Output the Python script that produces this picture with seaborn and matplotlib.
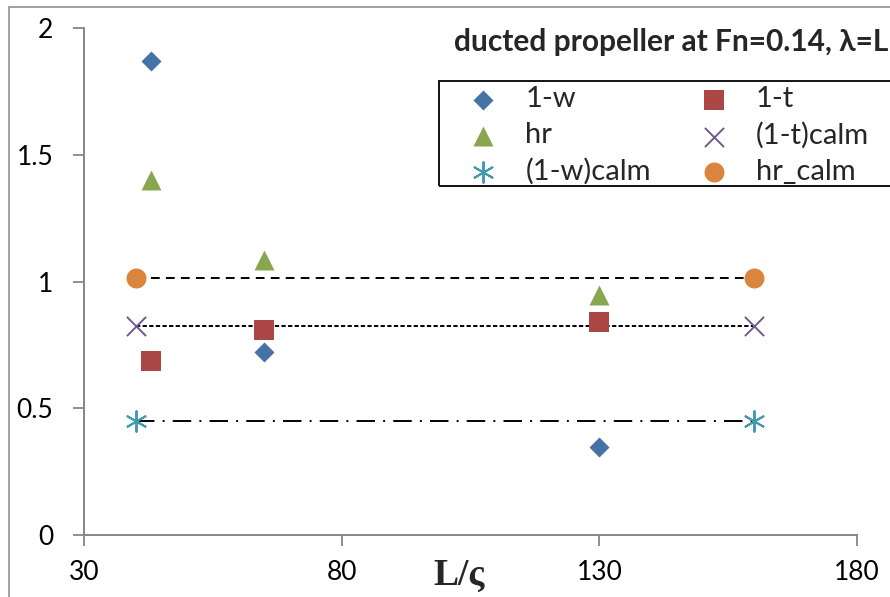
import matplotlib
matplotlib.use("Agg")
import matplotlib.pyplot as plt
import seaborn as sns
from matplotlib.patches import Rectangle

# Wave-condition results at three wavelength ratios
x_wave = [43, 65, 130]
one_minus_w = [1.87, 0.72, 0.347]
one_minus_t = [0.686, 0.81, 0.84]
hr = [1.40, 1.085, 0.945]

# Calm-water reference values, shown as horizontal levels
x_calm = [40, 160]
one_minus_t_calm = [0.823, 0.823]
one_minus_w_calm = [0.448, 0.448]
hr_calm = [1.013, 1.013]

x_ticks = [30, 80, 130, 180]
y_ticks = [0, 0.5, 1, 1.5, 2]
y_tick_labels = ["0", "0.5", "1", "1.5", "2"]

title = "ducted propeller at Fn=0.14, λ=L"
x_label = "L/ς"

sns.set_theme(style="white")
plt.rcParams["font.family"] = ["Lato", "DejaVu Sans"]

W, H = 890, 597
fig = plt.figure(figsize=(W / 100, H / 100), dpi=100)
ax = fig.add_axes([84 / W, 62 / H, 773 / W, 507 / H])

grey = "#868686"
c_w, c_t, c_hr = "#4572A7", "#AA4643", "#89A54E"
c_tc, c_wc, c_hc = "#71588F", "#4198AF", "#DB843D"

# calm-water level lines
sns.lineplot(x=x_calm, y=hr_calm, color="black", lw=1.4,
             linestyle=(0, (4.5, 3.2)), ax=ax, legend=False)
sns.lineplot(x=x_calm, y=one_minus_t_calm, color="black", lw=1.4,
             linestyle=(0, (2.2, 1.2)), ax=ax, legend=False)
sns.lineplot(x=x_calm, y=one_minus_w_calm, color="black", lw=1.4,
             linestyle=(0, (9.5, 4.2, 1.0, 4.2)), ax=ax, legend=False)

# markers
sns.scatterplot(x=x_wave, y=one_minus_w, marker="D", s=104, color=c_w,
                linewidth=0, label="1-w", ax=ax, zorder=3, clip_on=False)
sns.scatterplot(x=x_wave, y=one_minus_t, marker="s", s=207, color=c_t,
                linewidth=0, label="1-t", ax=ax, zorder=3, clip_on=False)
sns.scatterplot(x=x_wave, y=hr, marker="^", s=207, color=c_hr,
                linewidth=0, label="hr", ax=ax, zorder=3, clip_on=False)
sns.scatterplot(x=x_calm, y=one_minus_t_calm, marker="x", s=190, color=c_tc,
                linewidth=1.4, label="(1-t)calm", ax=ax, zorder=3, clip_on=False)
sns.scatterplot(x=x_calm, y=one_minus_w_calm, marker=(6, 2, 0), s=220, color=c_wc,
                linewidth=1.4, label="(1-w)calm", ax=ax, zorder=3, clip_on=False)
sns.scatterplot(x=x_calm, y=hr_calm, marker="o", s=207, color=c_hc,
                linewidth=0, label="hr_calm", ax=ax, zorder=3, clip_on=False)

ax.set_xlim(30, 180)
ax.set_ylim(0, 2)
ax.set_xticks(x_ticks)
ax.set_xticklabels([str(v) for v in x_ticks])
ax.set_yticks(y_ticks)
ax.set_yticklabels(y_tick_labels)
ax.tick_params(axis="both", direction="out", length=8, width=1.3, color=grey,
               labelsize=19, labelcolor="black")
ax.tick_params(axis="y", pad=14)
ax.tick_params(axis="x", pad=10)
ax.tick_params(left=True, bottom=True)
sns.despine(ax=ax)
for side in ("left", "bottom"):
    ax.spines[side].set_color(grey)
    ax.spines[side].set_linewidth(1.4)
ax.grid(False)

ax.set_xlabel(x_label, fontsize=27, fontweight="bold", family="Liberation Serif")
ax.set_ylabel("")
ax.xaxis.set_label_coords(0.485, -0.08)
ax.xaxis.label.set_va("center")

# legend, column-major: 1-w, hr, (1-w)calm | 1-t, (1-t)calm, hr_calm
handles, labels = ax.get_legend_handles_labels()
ax.get_legend().remove()
order = ["1-w", "hr", "(1-w)calm", "1-t", "(1-t)calm", "hr_calm"]
hmap = dict(zip(labels, handles))
fig.legend([hmap[k] for k in order], order, loc="upper left",
           bbox_to_anchor=(439 / W, 1 - 80 / H), bbox_transform=fig.transFigure,
           ncol=2, frameon=False, fontsize=21, handlelength=2.6,
           handletextpad=0.14, columnspacing=0.87, borderpad=0.22,
           labelspacing=0.34, borderaxespad=0)
fig.add_artist(Rectangle((439 / W, 1 - 186 / H), 1.0, 105 / H,
                         transform=fig.transFigure, fill=False,
                         edgecolor="black", linewidth=1.3))

# outer chart-area frame
fig.add_artist(Rectangle((9 / W, -0.1), 1.2, 1.1 - 7 / H,
                         transform=fig.transFigure, fill=False,
                         edgecolor=grey, linewidth=1.1))

fig.text(888 / W, 1 - 42 / H, title, ha="right", va="center",
         fontsize=21.5, fontweight="bold")

fig.savefig("out.png", dpi=100)
